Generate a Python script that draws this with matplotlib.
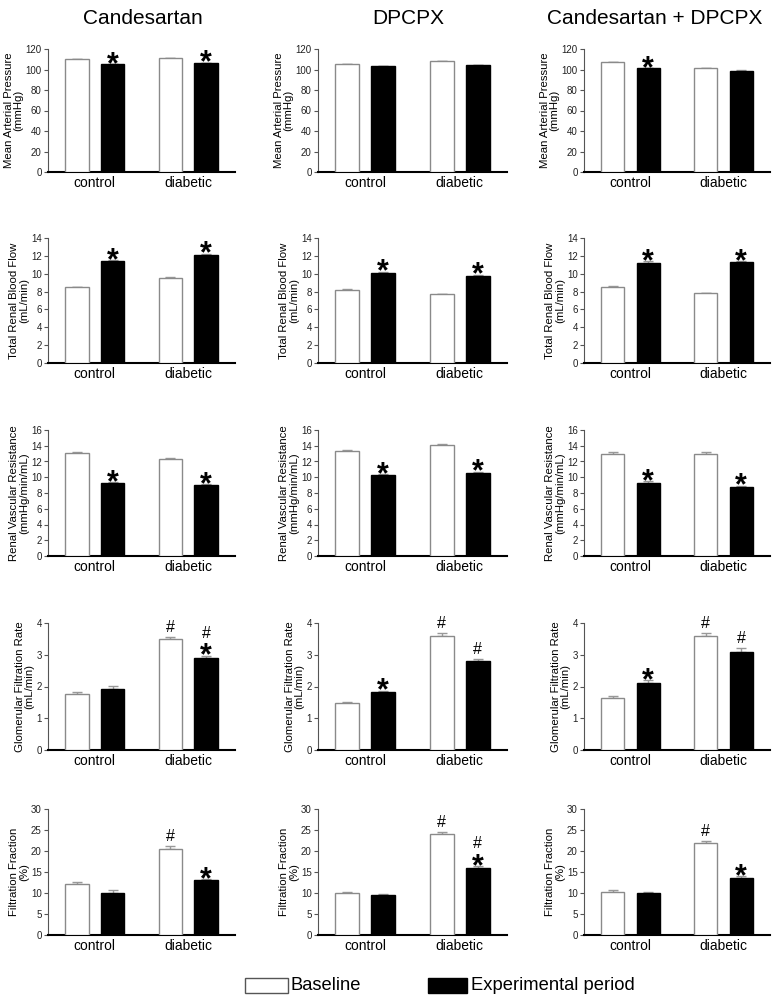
import numpy as np
import matplotlib
matplotlib.use('Agg')
from matplotlib import pyplot as plt
from matplotlib.patches import Rectangle

plt.rcParams['font.family'] = ['Liberation Sans', 'DejaVu Sans']

drugs = ['Candesartan', 'DPCPX', 'Candesartan + DPCPX']
groups = ['control', 'diabetic']
ylabels = ['Mean Arterial Pressure\n(mmHg)',
           'Total Renal Blood Flow\n(mL/min)',
           'Renal Vascular Resistance\n(mmHg/min/mL)',
           'Glomerular Filtration Rate\n(mL/min)',
           'Filtration Fraction\n(%)']
ymax = [120, 14, 16, 4, 30]
ystep = [20, 2, 2, 1, 5]

# values per drug: [control, diabetic]
map_base = [[110, 111], [105, 108], [107, 101]]
map_exp = [[105, 106], [103, 104], [101, 99]]
map_base_err = [[0.5, 0.6], [0.5, 0.6], [0.6, 0.7]]
map_exp_err = [[0.5, 0.7], [0.5, 0.6], [0.7, 0.8]]

rbf_base = [[8.5, 9.5], [8.2, 7.7], [8.5, 7.8]]
rbf_exp = [[11.4, 12.1], [10.1, 9.8], [11.2, 11.3]]
rbf_base_err = [[0.06, 0.1], [0.07, 0.05], [0.1, 0.07]]
rbf_exp_err = [[0.1, 0.15], [0.12, 0.1], [0.2, 0.15]]

rvr_base = [[13.1, 12.3], [13.3, 14.1], [12.9, 13.0]]
rvr_exp = [[9.3, 9.0], [10.3, 10.6], [9.3, 8.8]]
rvr_base_err = [[0.05, 0.12], [0.12, 0.1], [0.25, 0.2]]
rvr_exp_err = [[0.12, 0.1], [0.1, 0.1], [0.25, 0.15]]

gfr_base = [[1.77, 3.5], [1.47, 3.6], [1.65, 3.6]]
gfr_exp = [[1.93, 2.9], [1.82, 2.8], [2.1, 3.1]]
gfr_base_err = [[0.05, 0.06], [0.03, 0.09], [0.05, 0.09]]
gfr_exp_err = [[0.08, 0.07], [0.05, 0.08], [0.09, 0.1]]

ff_base = [[12.1, 20.5], [10.0, 24.0], [10.3, 21.8]]
ff_exp = [[10.1, 13.0], [9.5, 16.0], [9.9, 13.6]]
ff_base_err = [[0.5, 0.6], [0.2, 0.5], [0.4, 0.5]]
ff_exp_err = [[0.5, 0.3], [0.2, 0.4], [0.3, 0.5]]

# significance marks: [ctrl base, ctrl exp, diab base, diab exp]
map_marks = [['', '*', '', '*'], ['', '', '', ''], ['', '*', '', '']]
rbf_marks = [['', '*', '', '*'], ['', '*', '', '*'], ['', '*', '', '*']]
rvr_marks = [['', '*', '', '*'], ['', '*', '', '*'], ['', '*', '', '*']]
gfr_marks = [['', '', '#', '#*'], ['', '*', '#', '#'], ['', '*', '#', '#']]
ff_marks = [['', '', '#', '*'], ['', '', '#', '#*'], ['', '', '#', '*']]

rows = [(map_base, map_exp, map_base_err, map_exp_err, map_marks),
        (rbf_base, rbf_exp, rbf_base_err, rbf_exp_err, rbf_marks),
        (rvr_base, rvr_exp, rvr_base_err, rvr_exp_err, rvr_marks),
        (gfr_base, gfr_exp, gfr_base_err, gfr_exp_err, gfr_marks),
        (ff_base, ff_exp, ff_base_err, ff_exp_err, ff_marks)]

W, H = 777, 1007
fig = plt.figure(figsize=(W / 100, H / 100), dpi=100)

lefts = [48, 318, 584]
widths = [187, 189, 186]
tops = [49, 238, 430, 623, 809]
bottoms = [172, 363, 556, 750, 935]
title_x = [143, 408, 655]


def put_marks(ax, x, top, marks):
    # stack: star first (lowest), hash above
    off = 3
    if '*' in marks:
        ax.annotate('*', xy=(x, top), xytext=(0, off - 12), textcoords='offset pixels',
                    ha='center', va='baseline', fontsize=22, fontweight='bold')
        off += 8 + 7
    elif '#' in marks:
        off = 5
    if '#' in marks:
        ax.annotate('#', xy=(x, top), xytext=(0, off), textcoords='offset pixels',
                    ha='center', va='baseline', fontsize=11.5)


centers = np.arange(1, len(groups) + 1)
bw = 0.25
dx = 0.19

for r, (base, exp, berr, eerr, marks) in enumerate(rows):
    for c in range(3):
        ax = fig.add_axes([lefts[c] / W, 1 - bottoms[r] / H,
                           widths[c] / W, (bottoms[r] - tops[r]) / H])
        xb = centers - dx
        xe = centers + dx
        ax.bar(xb, base[c], width=bw, color='white', edgecolor='#8a8a8a', linewidth=1, zorder=3)
        ax.bar(xe, exp[c], width=bw, color='black', edgecolor='black', linewidth=1, zorder=3)
        ax.errorbar(xb, base[c], yerr=[np.zeros(2), berr[c]], fmt='none', ecolor='#999999',
                    elinewidth=1, capsize=3.5, capthick=1, zorder=2)
        ax.errorbar(xe, exp[c], yerr=[np.zeros(2), eerr[c]], fmt='none', ecolor='#999999',
                    elinewidth=1, capsize=3.5, capthick=1, zorder=2)
        xs = [xb[0], xe[0], xb[1], xe[1]]
        tops_v = [base[c][0] + berr[c][0], exp[c][0] + eerr[c][0],
                  base[c][1] + berr[c][1], exp[c][1] + eerr[c][1]]
        for x, t, m in zip(xs, tops_v, marks[c]):
            if m:
                put_marks(ax, x, t, m)

        ax.set_xlim(0.5, 2.5)
        ax.set_ylim(0, ymax[r])
        ax.set_yticks(np.arange(0, ymax[r] + ystep[r] / 2, ystep[r]))
        ax.set_xticks(centers)
        ax.set_xticklabels(groups, fontsize=10)
        ax.tick_params(axis='x', length=0, pad=3)
        ax.tick_params(axis='y', length=3, width=0.8, color='#555555', labelsize=7,
                       labelcolor='#222222', pad=1.5)
        ax.spines['top'].set_visible(False)
        ax.spines['right'].set_visible(False)
        ax.spines['left'].set_color('#555555')
        ax.spines['left'].set_linewidth(0.8)
        ax.spines['bottom'].set_linewidth(1.5)
        ax.set_ylabel(ylabels[r], fontsize=8.2, linespacing=0.95, labelpad=1.5)
        if r == 0:
            fig.text(title_x[c] / W, 1 - 19 / H, drugs[c], ha='center', va='center', fontsize=15)

# legend
fig.patches.append(Rectangle((245 / W, 1 - 993 / H), 43 / W, 15 / H, transform=fig.transFigure,
                             facecolor='white', edgecolor='#555555', linewidth=1))
fig.text(291 / W, 1 - 986 / H, 'Baseline', ha='left', va='center', fontsize=13.2)
fig.patches.append(Rectangle((428 / W, 1 - 993 / H), 39 / W, 15 / H, transform=fig.transFigure,
                             facecolor='black', edgecolor='black', linewidth=1))
fig.text(471 / W, 1 - 986 / H, 'Experimental period', ha='left', va='center', fontsize=13.2)

fig.savefig('out.png', dpi=100)
